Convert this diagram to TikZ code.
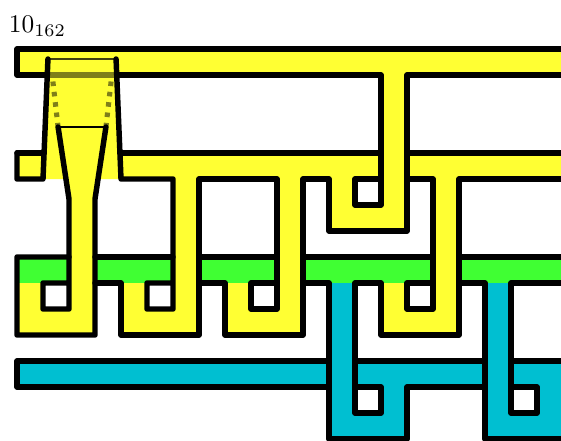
\documentclass[tikz,border=0pt]{standalone}
\usepackage{xcolor}
\definecolor{ribbonyellow}{HTML}{FFFF33}
\definecolor{ribbongreen}{HTML}{40FF33}
\definecolor{ribbonblue}{HTML}{00BFD1}
\tikzset{
  edgeline/.style={
    black,
    line width=2.15pt,
    line join=round,
    line cap=round
  },
  shadowline/.style={
    black,
    opacity=0.5,
    line width=2pt
  },
  dottedshadow/.style={
    shadowline,
    dash pattern=on 1.8pt off 2.3pt
  },
  thinline/.style={
    black,
    line width=0.5pt
  }
}

\begin{document}
\begin{tikzpicture}[x=0.36cm,y=-0.36cm]
    \path[use as bounding box,clip] (-0.654,-1.885) rectangle (20.923,15.077);

    \node[anchor=base west,inner sep=0pt] (knotname) at (-0.33,-0.62) {$10_{162}$};

    % yellow part
    \fill[ribbonyellow] (0,0) rectangle (21,1);
    \fill[ribbonyellow] (0,4) rectangle (21,5);
    \fill[ribbonyellow] (1,5) -- (1.19,0.385) -- (3.81,0.385) -- (4,5) -- cycle;
    \fill[ribbonyellow] (1.58,3) -- (2,5.77) -- (3,5.77) -- (3.42,3) -- cycle;
    \fill[ribbonyellow] (12,5) rectangle (15,7);
    \fill[ribbonyellow] (14,1) rectangle (15,5);
    \fill[white] (13,5) rectangle (14,6);
    \foreach \c in {2,6,10,16} {
        \fill[ribbonyellow] (\c,5) rectangle (\c+1,11);
    }
    \foreach \c in {0,4,8,14} {
        \fill[ribbonyellow] (\c,9) rectangle (\c+3,11);
    }
    \foreach \c in {1,5,9,15} {
        \fill[white] (\c,9) rectangle (\c+1,10);
    }

    % green part
    \fill[ribbongreen] (0,8) rectangle (2,9);
    \fill[ribbongreen] (3,8) rectangle (6,9);
    \fill[ribbongreen] (7,8) rectangle (10,9);
    \fill[ribbongreen] (11,8) rectangle (16,9);
    \fill[ribbongreen] (17,8) rectangle (21,9);

    % blue part
    \fill[ribbonblue] (0,12) rectangle (21,13);
    \fill[ribbonblue] (12,9) rectangle (13,15);
    \fill[ribbonblue] (18,9) rectangle (19,15);
    \fill[ribbonblue] (12,14) rectangle (15,15);
    \fill[ribbonblue] (14,13) rectangle (15,14);
    \fill[ribbonblue] (18,14) rectangle (21,15);
    \fill[ribbonblue] (20,13) rectangle (21,14);

    % band seen through the funnel
    \draw[shadowline] (1.165,1) -- (3.835,1);
    \draw[dottedshadow] (1.38,1.25) -- (1.58,3);
    \draw[dottedshadow] (3.62,1.25) -- (3.42,3);
    \draw[black!75!ribbonyellow,line width=0.6pt] (1.19,0.385) -- (3.81,0.385);
    \draw[thinline] (1.58,3) -- (3.42,3);

    % yellow outlines
    \draw[edgeline] (21,0) -- (0,0) -- (0,1) -- (1.165,1);
    \draw[edgeline] (3.835,1) -- (14,1) -- (14,6) -- (13,6) -- (13,5) -- (14,5);
    \draw[edgeline] (0,4) -- (1.04,4);
    \draw[edgeline] (1.19,0.385) -- (1,5) -- (0,5) -- (0,4);
    \draw[edgeline] (3.81,0.385) -- (4,5) -- (6,5) -- (6,10) -- (5,10) -- (5,9) -- (6,9);
    \draw[edgeline] (3.96,4) -- (14,4);
    \draw[edgeline] (15,4) -- (21,4);
    \draw[edgeline] (1.58,3) -- (2,5.77) -- (2,10) -- (1,10) -- (1,9) -- (2,9);
    \draw[edgeline] (3.42,3) -- (3,5.77) -- (3,11) -- (0,11) -- (0,8) -- (2,8);
    \draw[edgeline] (3,9) -- (4,9) -- (4,11) -- (7,11) -- (7,5) -- (10,5) -- (10,10) -- (9,10) -- (9,9) -- (10,9);
    \draw[edgeline] (7,9) -- (8,9) -- (8,11) -- (11,11) -- (11,5) -- (12,5) -- (12,7) -- (15,7) -- (15,1) -- (21,1);
    \draw[edgeline] (21,5) -- (17,5) -- (17,11) -- (14,11) -- (14,9) -- (13,9) -- (13,14) -- (14,14) -- (14,13) -- (13,13);
    \draw[edgeline] (15,5) -- (16,5) -- (16,10) -- (15,10) -- (15,9) -- (16,9);

    % green outlines
    \draw[edgeline] (3,8) -- (6,8);
    \draw[edgeline] (7,8) -- (10,8);
    \draw[edgeline] (11,8) -- (16,8);
    \draw[edgeline] (17,8) -- (21,8);

    % blue outlines
    \draw[edgeline] (12,12) -- (0,12) -- (0,13) -- (12,13);
    \draw[edgeline] (13,12) -- (18,12);
    \draw[edgeline] (19,12) -- (21,12);
    \draw[edgeline] (11,9) -- (12,9) -- (12,15) -- (15,15) -- (15,13) -- (18,13);
    \draw[edgeline] (17,9) -- (18,9) -- (18,15) -- (21,15);
    \draw[edgeline] (21,9) -- (19,9) -- (19,14) -- (20,14) -- (20,13) -- (19,13);
\end{tikzpicture}
\end{document}
